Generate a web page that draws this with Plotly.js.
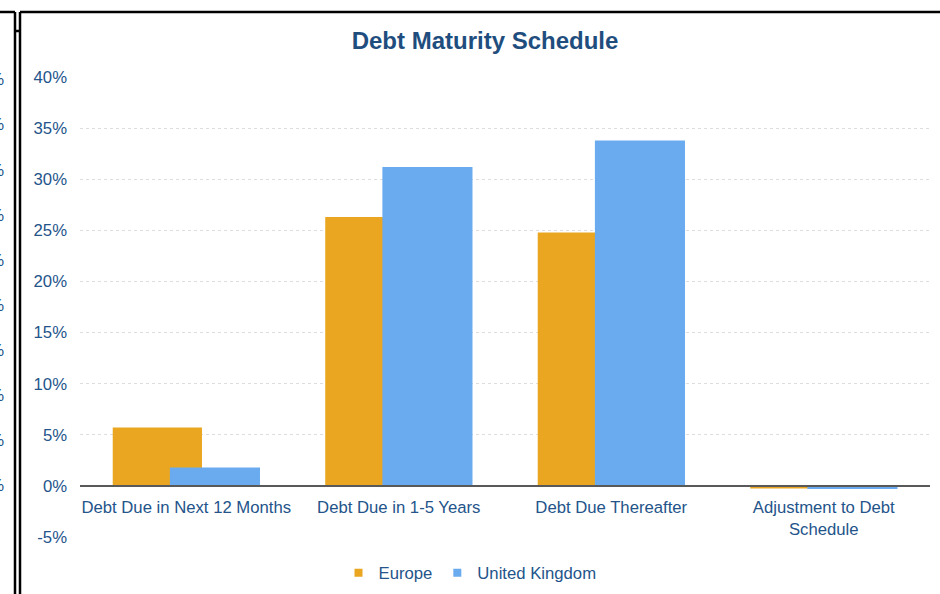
<!DOCTYPE html>
<html>
<head>
<meta charset="utf-8">
<script src="https://cdn.plot.ly/plotly-3.0.1.min.js"></script>
<style>html,body{margin:0;padding:0;background:#fff;}#chart{width:940px;height:594px;}</style>
</head>
<body>
<div id="chart"></div>
<script>
// ---- data ----
const categories = ["Debt Due in Next 12 Months", "Debt Due in 1-5 Years", "Debt Due Thereafter", "Adjustment to Debt<br>Schedule"];
const europe = [0.057, 0.263, 0.248, -0.0025];
const unitedKingdom = [0.018, 0.312, 0.338, -0.003];
const seriesNames = ["Europe", "United Kingdom"];
const yTickVals = [-0.05, 0, 0.05, 0.10, 0.15, 0.20, 0.25, 0.30, 0.35, 0.40];
const yTickText = ["-5%", "0%", "5%", "10%", "15%", "20%", "25%", "30%", "35%", "40%"];
const chartTitle = "Debt Maturity Schedule";

// ---- layout helpers ----
const W = 940, H = 594, L = 80, R = 10, T = 77, B = 57;
const PW = W - L - R, PH = H - T - B;
const px = x => (x - L) / PW;
const py = y => (H - B - y) / PH;
const textBlue = "#24548A";
const font = "Liberation Sans, Arial, sans-serif";
const colors = ["#EAA620", "#6AABF0"];

const traces = [
  {type: "bar", name: seriesNames[0], x: [0,1,2,3], y: europe, marker: {color: colors[0]}, width: 0.42, offset: -0.346, showlegend: false},
  {type: "bar", name: seriesNames[1], x: [0,1,2,3], y: unitedKingdom, marker: {color: colors[1]}, width: 0.424, offset: -0.077, showlegend: false},
  {type: "scatter", mode: "markers", name: seriesNames[0], x: [null], y: [null], marker: {symbol: "square", size: 8, color: colors[0]}},
  {type: "scatter", mode: "markers", name: seriesNames[1], x: [null], y: [null], marker: {symbol: "square", size: 8, color: colors[1]}}
];

const line = (x0, y0, x1, y1) => ({type: "line", xref: "paper", yref: "paper", x0: px(x0), y0: py(y0), x1: px(x1), y1: py(y1), line: {color: "#000", width: 2.5}, layer: "above"});
const shapes = [
  line(0, 12, 15, 12),
  line(15, 12, 15, 600),
  line(20, 12, 20, 600),
  line(20, 12, 945, 12),
  line(15, 31, 20, 31)
];

// cut-off neighbour chart labels at the far left
const leftYs = [80, 125, 170, 215, 260, 305, 350, 395, 440, 485];
const annotations = leftYs.map(y => ({xref: "paper", yref: "paper", x: px(6), y: py(y), xanchor: "right", yanchor: "middle", text: "0%", showarrow: false, font: {family: font, size: 16.7, color: textBlue}}));

const layout = {
  width: W, height: H,
  margin: {l: L, r: R, t: T, b: B, autoexpand: false},
  paper_bgcolor: "#fff", plot_bgcolor: "#fff",
  barmode: "overlay",
  font: {family: font, size: 16.7, color: textBlue},
  title: {text: "<b>" + chartTitle + "</b>", xref: "container", yref: "container", x: 485 / W, y: 1 - 41 / H, xanchor: "center", yanchor: "middle", font: {family: font, size: 24, color: "#1F4E7E"}},
  xaxis: {
    tickmode: "array", tickvals: [0,1,2,3], ticktext: categories,
    range: [-0.5, 3.5], anchor: "free", position: 0.05 / 0.45,
    showline: true, linecolor: "#595959", linewidth: 2,
    showgrid: false, zeroline: false, ticks: "", ticklabelstandoff: 6,
    tickfont: {family: font, size: 16.7, color: textBlue}, fixedrange: true
  },
  yaxis: {
    range: [-0.05, 0.40], tickmode: "array", tickvals: yTickVals, ticktext: yTickText,
    showgrid: true, gridcolor: "#DDDDDD", griddash: "dot", gridwidth: 1,
    zeroline: false, showline: false, ticks: "", ticklabelstandoff: 12,
    tickfont: {family: font, size: 16.7, color: textBlue}, fixedrange: true
  },
  legend: {orientation: "h", xref: "container", yref: "container", x: 470 / W, xanchor: "center", y: 1 - 573 / H, yanchor: "middle", font: {family: font, size: 16.7, color: textBlue}, itemwidth: 30, tracegroupgap: 0},
  shapes: shapes,
  annotations: annotations,
  showlegend: true
};

Plotly.newPlot("chart", traces, layout, {displayModeBar: false, staticPlot: true});
</script>
</body>
</html>
